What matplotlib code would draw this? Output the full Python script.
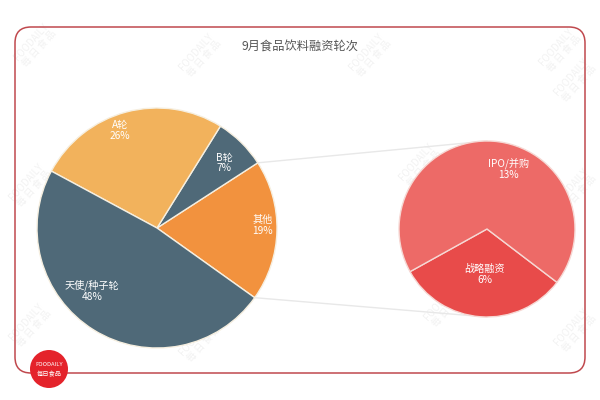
import numpy as np
import matplotlib
matplotlib.use("Agg")
import matplotlib.pyplot as plt
from matplotlib.patches import FancyBboxPatch, Circle

plt.rcParams['font.family'] = ['Noto Sans CJK SC', 'DejaVu Sans']

# data
title = "9月食品饮料融资轮次"
main_labels = ["其他", "B轮", "A轮", "天使/种子轮"]
main_values = [19, 7, 26, 48]
main_colors = ["#f2923e", "#4f6978", "#f2b25c", "#4f6978"]
sub_labels = ["战略融资", "IPO/并购"]
sub_values = [6, 13]
sub_colors = ["#e84b4a", "#ed6a67"]

# label placement (radius fraction, angle in deg) for each slice
main_lab_pos = [(0.88, 1.5), (0.78, 44), (0.87, 110.6), (0.75, 224)]
sub_lab_pos = [(0.52, -93), (0.72, 70.5)]

fig = plt.figure(figsize=(6, 4), dpi=100)
ax = fig.add_axes([0, 0, 1, 1])
ax.set_xlim(0, 600)
ax.set_ylim(0, 400)
ax.set_aspect('equal')
ax.axis('off')

# watermarks
for wx, wy in [(35, 355), (200, 345), (370, 345), (560, 350),
               (30, 215), (420, 235), (575, 320), (575, 210),
               (30, 75), (200, 60), (445, 95), (575, 70)]:
    ax.text(wx, wy, "FOODAILY\n每 日 食 品", rotation=48, ha='center', va='center',
            fontsize=7, color='#f2f2f2', linespacing=1.0, zorder=0.5)

# frame
frame = FancyBboxPatch((15, 27), 570, 346, boxstyle="round,pad=0,rounding_size=16",
                       fc='none', ec='#c0494e', lw=1.1, zorder=1)
ax.add_patch(frame)

ax.text(300, 353, title, ha='center', va='center', fontsize=8.8, color='#555555')

# main pie
c1 = (157, 172)
r1 = 120
w1, _ = ax.pie(main_values, colors=main_colors, startangle=-35.5, counterclock=True,
               center=c1, radius=r1, frame=True,
               wedgeprops=dict(edgecolor='#f6efe0', linewidth=1.0, zorder=3))
ax.set_xlim(0, 600)
ax.set_ylim(0, 400)
ax.axis('off')
for lab, v, (rf, ang) in zip(main_labels, main_values, main_lab_pos):
    a = np.deg2rad(ang)
    ax.text(c1[0] + rf * r1 * np.cos(a), c1[1] + rf * r1 * np.sin(a),
            f"{lab}\n{v}%", ha='center', va='center', color='white',
            fontsize=7.3, linespacing=1.1, zorder=5)

# second pie
c2 = (487, 171)
r2 = 88
w2, _ = ax.pie(sub_values, colors=sub_colors, startangle=-151, counterclock=True,
               center=c2, radius=r2, frame=True,
               wedgeprops=dict(edgecolor='#f6d8d4', linewidth=1.0, zorder=3))
ax.set_xlim(0, 600)
ax.set_ylim(0, 400)
ax.axis('off')
for lab, v, (rf, ang) in zip(sub_labels, sub_values, sub_lab_pos):
    a = np.deg2rad(ang)
    ax.text(c2[0] + rf * r2 * np.cos(a), c2[1] + rf * r2 * np.sin(a),
            f"{lab}\n{v}%", ha='center', va='center', color='white',
            fontsize=7.3, linespacing=1.1, zorder=5)

# connector lines from "其他" wedge to the second pie
t1 = np.deg2rad(w1[0].theta1)
t2 = np.deg2rad(w1[0].theta2)
ax.plot([c1[0] + r1 * np.cos(t2), c2[0]], [c1[1] + r1 * np.sin(t2), c2[1] + r2],
        color='#e8e8e8', lw=1.0, zorder=2)
ax.plot([c1[0] + r1 * np.cos(t1), c2[0]], [c1[1] + r1 * np.sin(t1), c2[1] - r2],
        color='#e8e8e8', lw=1.0, zorder=2)

# logo
ax.add_patch(Circle((49, 31), 19, fc='#e4232b', ec='none', zorder=6))
ax.text(49, 35, "FOODAILY", ha='center', va='center', color='white', fontsize=4.2,
        zorder=7)
ax.text(49, 26, "每日食品", ha='center', va='center', color='white', fontsize=4.5,
        zorder=7)

fig.savefig("out.png", dpi=100, facecolor='white')
